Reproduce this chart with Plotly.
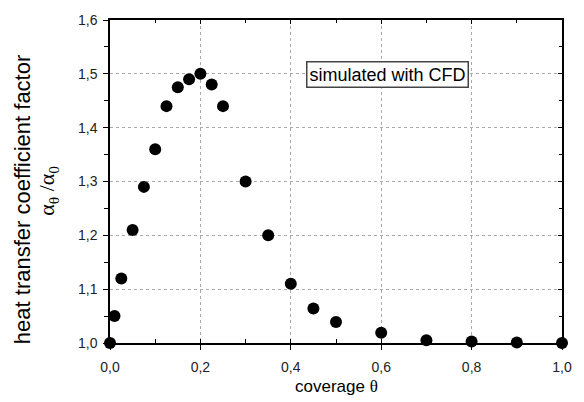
import plotly.graph_objects as go

coverage = [0.0, 0.01, 0.025, 0.05, 0.075, 0.1, 0.125, 0.15, 0.175, 0.2, 0.225, 0.25,
            0.3, 0.35, 0.4, 0.45, 0.5, 0.6, 0.7, 0.8, 0.9, 1.0]
factor = [1.0, 1.05, 1.12, 1.21, 1.29, 1.36, 1.44, 1.475, 1.49, 1.5, 1.48, 1.44,
          1.3, 1.2, 1.11, 1.064, 1.039, 1.019, 1.005, 1.003, 1.001, 1.0]

fig = go.Figure()
fig.add_trace(go.Scatter(
    x=coverage, y=factor, mode="markers",
    marker=dict(color="black", size=12, line=dict(width=0)),
    cliponaxis=False, showlegend=False,
))
# invisible trace to anchor the mirrored (top/right) tick axes
fig.add_trace(go.Scatter(
    x=coverage, y=factor, mode="markers", xaxis="x2", yaxis="y2",
    marker=dict(opacity=0), showlegend=False, hoverinfo="skip",
))

axis_common = dict(
    showline=True, linecolor="black", linewidth=1.5, mirror=True,
    showgrid=True, gridcolor="#aaaaaa", griddash="dot", gridwidth=1,
    zeroline=False,
    tickfont=dict(family="Liberation Sans, Arial", size=14, color="#222"),
    ticks="outside", ticklen=5, tickwidth=1.2, tickcolor="black",
)

fig.update_layout(
    xaxis=dict(
        range=[0, 1], dtick=0.2, tick0=0, tickformat=".1f", ticklabelstandoff=5,
        minor=dict(dtick=0.1, ticks="inside", ticklen=4, tickcolor="black", tickwidth=1.2, showgrid=False),
        **axis_common,
    ),
    yaxis=dict(
        range=[1.0, 1.6], dtick=0.1, tick0=1.0, tickformat=".1f", ticklabelstandoff=3,
        minor=dict(dtick=0.05, ticks="outside", ticklen=4, tickcolor="black", tickwidth=1.2, showgrid=False),
        **axis_common,
    ),
    xaxis2=dict(overlaying="x", side="top", range=[0, 1], dtick=0.2, tick0=0,
                showticklabels=False, showgrid=False, zeroline=False, showline=False,
                ticks="inside", ticklen=4, tickwidth=1.2, tickcolor="black",
                minor=dict(dtick=0.1, ticks="inside", ticklen=3, tickcolor="black", tickwidth=1.2)),
    yaxis2=dict(overlaying="y", side="right", range=[1.0, 1.6], dtick=0.1, tick0=1.0,
                showticklabels=False, showgrid=False, zeroline=False, showline=False,
                ticks="inside", ticklen=4, tickwidth=1.2, tickcolor="black",
                minor=dict(dtick=0.05, ticks="inside", ticklen=3, tickcolor="black", tickwidth=1.2)),
)

fig.add_annotation(
    xref="paper", yref="paper", x=-0.195, y=0.445, textangle=-90,
    text="heat transfer coefficient factor",
    showarrow=False, font=dict(family="Liberation Sans, Arial", size=22, color="black"),
    xanchor="center", yanchor="middle",
)
fig.add_annotation(
    xref="paper", yref="paper", x=-0.136, y=0.47, textangle=-90,
    text="α<sub>θ</sub> /α<sub>0</sub>",
    showarrow=False, font=dict(family="Liberation Serif, Times New Roman", size=22, color="black"),
    xanchor="center", yanchor="middle",
)
fig.add_annotation(
    xref="paper", yref="paper", x=0.5, y=-0.136,
    text="coverage <span style='font-family:Liberation Serif'>θ</span>",
    showarrow=False, font=dict(family="Liberation Sans, Arial", size=17, color="black"),
    xanchor="center", yanchor="middle",
)

fig.add_annotation(
    xref="x", yref="y", x=0.433, y=1.498, xanchor="left", yanchor="middle",
    text="simulated with CFD", showarrow=False,
    font=dict(family="Liberation Sans, Arial", size=18, color="black"),
    bgcolor="white", bordercolor="#444", borderwidth=1.5, borderpad=2,
)

fig.update_layout(
    width=584, height=402,
    margin=dict(l=110, r=12, t=13, b=59),
    paper_bgcolor="white", plot_bgcolor="white",
    separators=",.",
)

fig.write_html("out.html")
